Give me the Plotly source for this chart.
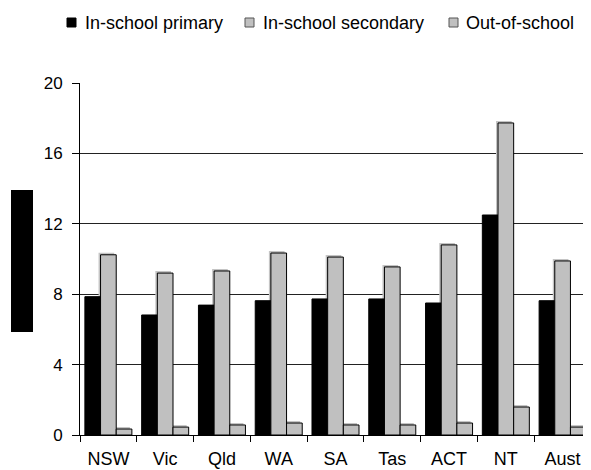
import plotly.graph_objects as go

categories = ["NSW", "Vic", "Qld", "WA", "SA", "Tas", "ACT", "NT", "Aust"]
primary = [7.86, 6.82, 7.38, 7.63, 7.73, 7.73, 7.5, 12.5, 7.63]
secondary = [10.24, 9.2, 9.32, 10.34, 10.11, 9.55, 10.8, 17.73, 9.89]
out_of_school = [0.34, 0.45, 0.57, 0.68, 0.57, 0.57, 0.68, 1.59, 0.45]
y_ticks = [0, 4, 8, 12, 16, 20]
series_names = ["In-school primary", "In-school secondary", "Out-of-school"]
series_colors = ["#000000", "#C0C0C0", "#C0C0C0"]

FONT = "Liberation Sans"

W, H = 591, 470
L, R, T, B = 72, 8, 75, 43
PW, PH = W - L - R, H - T - B
OFF = 8  # default page body margin


def px(wx):
    return (wx - OFF - L) / PW


def py(wy):
    return (H - B - (wy - OFF)) / PH


BAR_W = 0.276
offsets = [-1.5 * BAR_W, -0.5 * BAR_W, 0.5 * BAR_W]
SH_X = 2 / (PW / len(categories))   # ~2px shadow shift in category units
SH_Y = 2 / (PH / 20)                # ~2px shadow shift in value units

fig = go.Figure()
# soft shadow behind the grey bars
for vals, off, col in zip([primary, secondary, out_of_school], offsets, series_colors):
    if col == "#000000":
        continue
    fig.add_trace(go.Bar(x=categories, y=[v + SH_Y for v in vals], showlegend=False,
                         offset=off - SH_X, width=BAR_W, hoverinfo="skip",
                         marker=dict(color="#C4C4C4", line=dict(width=0))))
for name, vals, col, off in zip(series_names, [primary, secondary, out_of_school], series_colors, offsets):
    fig.add_trace(go.Bar(name=name, x=categories, y=vals, showlegend=False,
                         offset=off, width=BAR_W,
                         marker=dict(color=col, line=dict(color="#000000", width=1))))

shapes = [dict(type="rect", xref="paper", yref="paper",
               x0=px(11), x1=px(33), y0=py(332), y1=py(190),
               fillcolor="#000000", line=dict(width=0))]
annotations = []
legend_sym_x = [67, 245, 449]
legend_txt_x = [83, 261, 464]
for name, col, sx, tx in zip(series_names, series_colors, legend_sym_x, legend_txt_x):
    shapes.append(dict(type="rect", xref="paper", yref="paper",
                       x0=px(sx), x1=px(sx + 9), y0=py(27), y1=py(18),
                       fillcolor=col, line=dict(color="#000000" if col == "#000000" else "#555555", width=1)))
    annotations.append(dict(text=name, xref="paper", yref="paper", x=px(tx), y=py(22.5),
                            xanchor="left", yanchor="middle", showarrow=False,
                            font=dict(family=FONT, size=18, color="#000000")))

fig.update_layout(
    width=W, height=H,
    margin=dict(l=L, r=R, t=T, b=B),
    paper_bgcolor="white", plot_bgcolor="white",
    barmode="overlay",
    font=dict(family=FONT, size=17, color="#000000"),
    showlegend=False,
    xaxis=dict(showline=True, linecolor="#000000", linewidth=1,
               ticks="outside", tickson="boundaries", ticklen=6, tickcolor="#000000",
               showgrid=False, tickfont=dict(size=18, family=FONT),
               ticklabelstandoff=7),
    yaxis=dict(range=[0, 20], tickvals=y_ticks, showline=True, linecolor="#000000",
               linewidth=1, ticks="outside", ticklen=7, tickcolor="#000000",
               showgrid=True, gridcolor="#222222", gridwidth=1,
               zeroline=False, tickfont=dict(size=17, family=FONT),
               ticklabelstandoff=6),
    shapes=shapes,
    annotations=annotations,
)

fig.write_html("out.html")
